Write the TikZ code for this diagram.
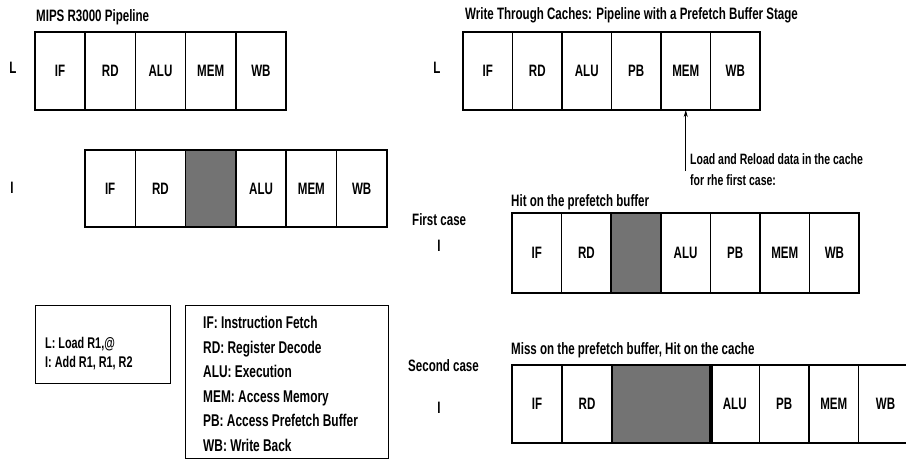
\documentclass[tikz,border=0pt]{standalone}
\usepackage{fontspec}
\setmainfont{Liberation Sans}[FakeStretch=0.7]
\usetikzlibrary{positioning, arrows.meta}
\newcommand{\cellfont}{\fontsize{16.5}{18}\selectfont\bfseries}
\tikzset{
  stage/.style   = {rectangle, draw=black, line width=1.6pt, anchor=north west,
                    minimum width=50pt, minimum height=78pt, inner sep=0pt, outer sep=0pt,
                    font=\cellfont},
  stall/.style   = {stage, fill=black!55},
  rowtitle/.style = {anchor=west, inner sep=0pt, font=\fontsize{16.5}{18}\selectfont\bfseries},
  instr/.style   = {inner sep=0pt, font=\fontsize{16.5}{18}\selectfont\bfseries},
  keybox/.style  = {rectangle, draw=black, line width=1.4pt, anchor=north west, inner sep=0pt},
  keytext/.style = {anchor=west, align=left, inner sep=0pt, font=\fontsize{17}{24.5}\selectfont\bfseries},
  callout/.style = {line width=0.7pt, -{Stealth[length=7pt, width=4pt]}},
}

\begin{document}
\begin{tikzpicture}[x=1pt, y=-1pt]
\useasboundingbox (0,0) rectangle (906,460);

% =============== LEFT: MIPS R3000 ===============
\node[rowtitle] (mipstitle) at (36,17) {MIPS R3000 Pipeline};
\node[instr] (mipsL) at (13,68) {L};
\foreach \lbl [count=\i] in {IF,RD,ALU,MEM,WB}
  \node[stage, minimum width=50.2pt] (ml\i) at ({35+50.2*(\i-1)},32) {\lbl};

\node[instr] (mipsI) at (12,188) {I};
\foreach \lbl/\sty [count=\i] in {IF/stage,RD/stage,{}/stall,ALU/stage,MEM/stage,WB/stage}
  \node[\sty, minimum width=50.3pt, minimum height=77pt] (mi\i) at ({85+50.3*(\i-1)},150) {\lbl};

% =============== RIGHT: WRITE THROUGH ===============
\node[rowtitle] (wttitle) at (465,15) {Write Through Caches: Pipeline with a Prefetch Buffer Stage};
\node[instr] (wtL) at (437,68) {L};
\foreach \lbl [count=\i] in {IF,RD,ALU,PB,MEM,WB}
  \node[stage, minimum width=49.5pt] (wl\i) at ({463+49.5*(\i-1)},32) {\lbl};

% load / reload note under MEM
\coordinate (reload) at (685.75,171);
\draw[callout] (reload) -- (wl5.south);
\node[anchor=west, align=left, inner sep=0pt, font=\fontsize{15}{21}\selectfont\bfseries]
  (reloadnote) at (690,170) {Load and Reload data in the cache\\for rhe first case:};

% first case: hit on the prefetch buffer
\node[instr, anchor=west] (firstcase) at (412,220) {First case};
\node[instr] (hitI) at (439,246) {I};
\node[rowtitle] (hittitle) at (511,202) {Hit on the prefetch buffer};
\foreach \lbl/\sty [count=\i] in {IF/stage,RD/stage,{}/stall,ALU/stage,PB/stage,MEM/stage,WB/stage}
  \node[\sty, minimum width=49.6pt, minimum height=80pt] (hi\i) at ({512+49.6*(\i-1)},213) {\lbl};

% second case: miss on the prefetch buffer
\node[instr, anchor=west] (secondcase) at (408,366) {Second case};
\node[instr] (missI) at (439,408) {I};
\node[rowtitle] (misstitle) at (511,350) {Miss on the prefetch buffer, Hit on the cache};
\node[stage] (mc1) at (512,365) {IF};
\node[stage, right=0pt of mc1.north east, anchor=north west] (mc2) {RD};
\node[stall, minimum width=100pt, right=0pt of mc2.north east, anchor=north west] (mc3) {};
\foreach \lbl [count=\i from 4] in {ALU,PB,MEM}
  \node[stage, minimum width=49.5pt] (mc\i) at ({710+49.5*(\i-4)},365) {\lbl};
\node[stage, minimum width=54pt, right=0pt of mc6.north east, anchor=north west] (mc7) {WB};

% =============== KEYS ===============
\node[keybox, minimum width=135pt, minimum height=78pt] (instrkey) at (35,305) {};
\node[keytext, font=\fontsize{15.5}{19}\selectfont\bfseries] (instrtext) at (45,354)
  {L: Load R1,@\\I: Add R1, R1, R2};
\node[keybox, minimum width=203pt, minimum height=153pt] (stagekey) at (185,305) {};
\node[keytext] (stagetext) at (203,384)
  {IF: Instruction Fetch\\RD: Register Decode\\ALU: Execution\\MEM: Access Memory\\
   PB: Access Prefetch Buffer\\WB: Write Back};

\end{tikzpicture}
\end{document}
